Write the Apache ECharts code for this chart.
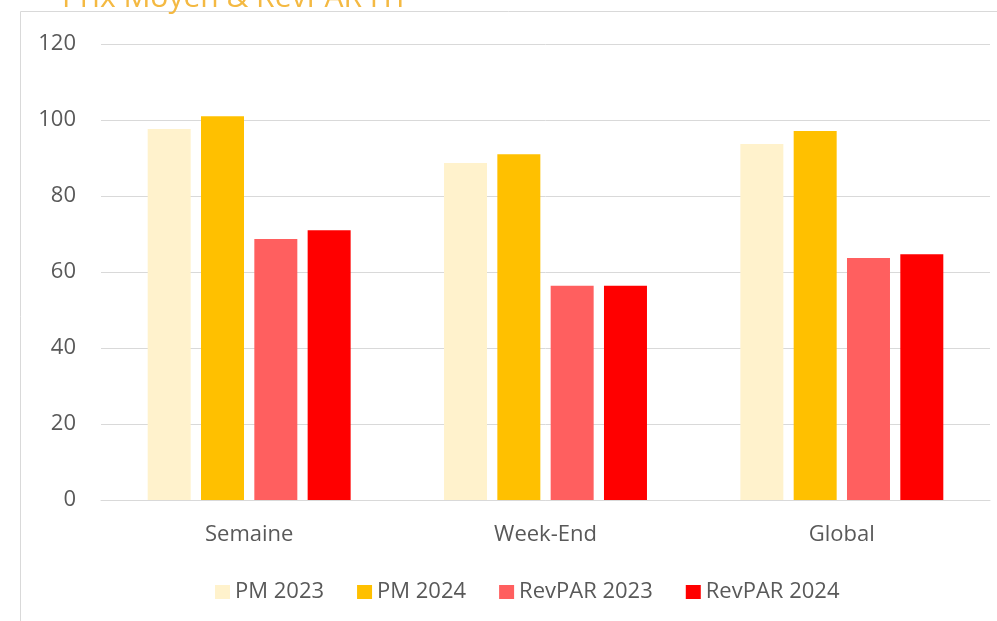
<!DOCTYPE html>
<html><head><meta charset="utf-8">
<script src="https://cdn.jsdelivr.net/npm/echarts@6/dist/echarts.min.js"></script>
<style>html,body{margin:0;padding:0;background:#fff}#c{width:997px;height:621px}</style>
</head><body><div id="c"></div>
<script>
const categories = ['Semaine', 'Week-End', 'Global'];
const seriesNames = ['PM 2023', 'PM 2024', 'RevPAR 2023', 'RevPAR 2024'];
const pm2023 = [97.6, 88.7, 93.7];
const pm2024 = [101.0, 91.0, 97.1];
const revpar2023 = [68.7, 56.4, 63.7];
const revpar2024 = [71.0, 56.4, 64.7];
const colors = ['#FFF2CC', '#FFC000', '#FF5F5F', '#FF0000'];
const values = [pm2023, pm2024, revpar2023, revpar2024];
const FONT = 'Open Sans';

const chart = echarts.init(document.getElementById('c'), null, {renderer: 'canvas'});
chart.setOption({
  animation: false,
  textStyle: {fontFamily: FONT},
  graphic: [
    {type: 'polyline', shape: {points: [[20.5, 621], [20.5, 11.5], [997, 11.5]]}, style: {stroke: '#D9D9D9', lineWidth: 1, fill: null}},
    {type: 'text', x: 62, y: -2, style: {text: 'Prix Moyen & RevPAR HT', fill: '#F4B942', font: '30px "' + FONT + '"', verticalAlign: 'middle'}}
  ],
  grid: {left: 101, right: 7, top: 44, bottom: 121},
  legend: {
    left: 210, top: 576, itemWidth: 15, itemHeight: 14, itemGap: 33,
    icon: 'rect',
    textStyle: {color: '#595959', fontSize: 22, fontFamily: FONT, padding: [0, 0, 0, 0]},
    data: seriesNames
  },
  xAxis: {
    type: 'category', data: categories,
    axisLine: {lineStyle: {color: '#D9D9D9', width: 1}},
    axisTick: {show: false},
    axisLabel: {color: '#595959', fontSize: 22, margin: 24, fontFamily: FONT}
  },
  yAxis: {
    type: 'value', min: 0, max: 120, interval: 20,
    axisLine: {show: false}, axisTick: {show: false},
    axisLabel: {color: '#595959', fontSize: 22, margin: 25, fontFamily: FONT},
    splitLine: {lineStyle: {color: '#D9D9D9', width: 1}}
  },
  series: seriesNames.map((n, i) => ({
    name: n, type: 'bar', data: values[i], barWidth: 43, barGap: '24%',
    itemStyle: {color: colors[i]}
  }))
});
</script></body></html>
